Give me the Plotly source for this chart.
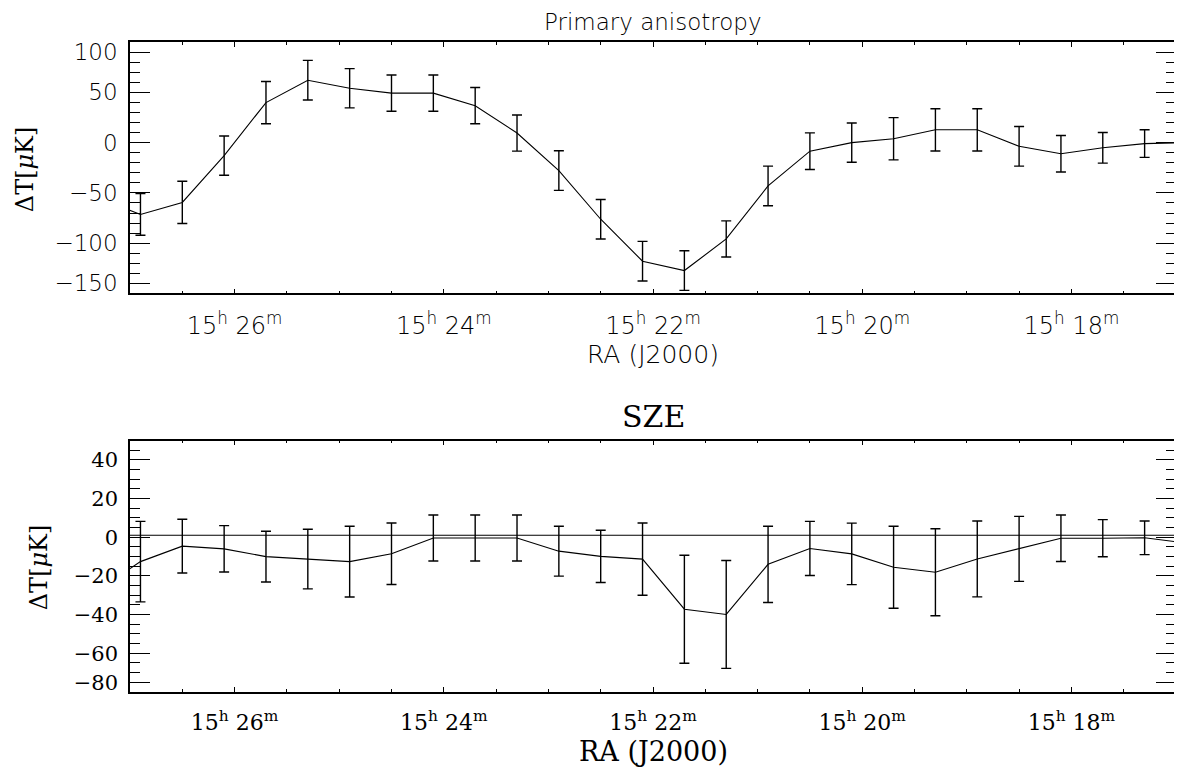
"""Primary anisotropy / SZE profiles along RA with error bars."""

import plotly.graph_objects as go

# RA of each drift bin, seconds past 15h (first and last bins fall just off the plotted window)
ra_sec = [1638, 1614, 1590, 1566, 1542, 1518, 1494, 1470, 1446, 1422, 1398, 1374, 1350, 1326,
          1302, 1278, 1254, 1230, 1206, 1182, 1158, 1134, 1110, 1086, 1062, 1038, 1014]

# primary anisotropy, uK
cmb_dt = [-55, -71.4, -59.5, -12.9, 39.8, 62.0, 54.0, 49.2, 49.2, 36.7, 9.5, -27.8, -76.2, -117.9,
          -127.2, -95.8, -43.1, -8.5, 0.0, 3.8, 12.7, 12.7, -3.7, -11.1, -5.2, -1.0, 0.0]
cmb_err = [20, 20.7, 21, 19.5, 21, 19.7, 19.5, 18, 18, 18, 18, 19.7, 19.7, 19.7,
           19.7, 18, 19.7, 18.2, 19.5, 21, 21, 21, 19.7, 18.2, 15.2, 13.7, 13]

# SZE, uK
sze_dt = [-27, -12.6, -4.6, -6.0, -10.0, -11.3, -12.6, -8.5, -0.4, -0.4, -0.4, -7.2, -9.9, -11.3,
          -37.2, -39.9, -14.0, -5.8, -8.6, -15.5, -18.1, -11.2, -6.0, -0.5, -0.5, -0.3, -3]
sze_err = [20, 20.8, 13.9, 12, 13.1, 15.4, 18.3, 15.9, 11.9, 11.9, 11.9, 12.9, 13.5, 18.7,
           27.9, 27.9, 19.7, 14, 15.9, 21.2, 22.5, 19.6, 16.8, 12, 9.6, 8.7, 9]
sze_ref = 1

# axis ticks
ra_range = [1620, 1020]
ra_ticks = [1560, 1440, 1320, 1200, 1080]
ra_labels = ["15<sup>h</sup> 26<sup>m</sup>", "15<sup>h</sup> 24<sup>m</sup>", "15<sup>h</sup> 22<sup>m</sup>",
             "15<sup>h</sup> 20<sup>m</sup>", "15<sup>h</sup> 18<sup>m</sup>"]
cmb_ticks = [-140, -100, -50, 0, 50, 90]
cmb_labels = ["\u2212150", "\u2212100", "\u221250", "0", "50", "100"]
sze_ticks = [-75, -60, -40, -20, 0, 20, 40]
sze_labels = ["\u221280", "\u221260", "\u221240", "\u221220", "0", "20", "40"]

SANS = dict(family="DejaVu Sans", size=23, color="black", weight=200)
SERIF = dict(family="DejaVu Serif", size=21, color="black")

fig = go.Figure()
fig.add_trace(go.Scatter(
    x=ra_sec, y=cmb_dt, mode="lines",
    line=dict(color="black", width=1.1),
    error_y=dict(type="data", array=cmb_err, color="black", thickness=1.4, width=5),
    xaxis="x", yaxis="y", showlegend=False,
))
fig.add_trace(go.Scatter(
    x=ra_sec, y=sze_dt, mode="lines",
    line=dict(color="black", width=1.1),
    error_y=dict(type="data", array=sze_err, color="black", thickness=1.4, width=5),
    xaxis="x2", yaxis="y2", showlegend=False,
))
# reference level across the SZE panel
fig.add_shape(type="line", xref="x2 domain", yref="y2", x0=0, x1=1, y0=sze_ref, y1=sze_ref,
              line=dict(color="black", width=1.1))

frame = dict(showline=True, linecolor="black", linewidth=1.5, mirror="ticks",
             showgrid=False, zeroline=False, ticks="inside", tickcolor="black", tickwidth=1)


def xaxis(font, anchor):
    return dict(frame, range=ra_range, tickmode="array", tickvals=ra_ticks, ticktext=ra_labels,
                ticklen=5, tickfont=font, anchor=anchor, ticklabelstandoff=10,
                minor=dict(tickmode="linear", tick0=0, dtick=30, ticks="inside", ticklen=3,
                           tickcolor="black", tickwidth=1))


def yaxis(rng, vals, text, minor_step, font, domain, anchor):
    return dict(frame, range=rng, tickmode="array", tickvals=vals, ticktext=text,
                ticklen=20, tickfont=font, domain=domain, anchor=anchor, ticklabelstandoff=6,
                minor=dict(tickmode="linear", tick0=0, dtick=minor_step, ticks="inside", ticklen=10,
                           tickcolor="black", tickwidth=1))


def label(text, x, y, font, angle=0):
    return dict(text=text, x=x, y=y, xref="paper", yref="paper", xanchor="center",
                yanchor="middle", textangle=angle, showarrow=False, font=font)


# the page body adds an 8px margin, so the figure is sized to sit flush with the window
fig.update_layout(
    width=1174, height=763,
    paper_bgcolor="white", plot_bgcolor="white",
    margin=dict(l=122, r=4, t=34, b=79),
    xaxis=xaxis(dict(SANS, size=24), "y"),
    yaxis=yaxis([-150, 100], cmb_ticks, cmb_labels, 10, SANS, [0.6131, 1], "x"),
    xaxis2=xaxis(dict(SERIF, size=22), "y2"),
    yaxis2=yaxis([-80, 50], sze_ticks, sze_labels, 5, SERIF, [0, 0.3869], "x2"),
    annotations=[
        label("Primary anisotropy", 0.5, 1.0308, dict(SANS, size=23)),
        label("RA (J2000)", 0.5, 0.5185, dict(SANS, size=25)),
        label("\u0394T[<i>\u03bc</i>K]", -0.1002, 0.8046, dict(SERIF, size=24), -90),
        label("SZE", 0.5, 0.4246, dict(SERIF, size=30)),
        label("RA (J2000)", 0.5, -0.0923, dict(SERIF, size=27)),
        label("\u0394T[<i>\u03bc</i>K]", -0.0868, 0.1923, dict(SERIF, size=24), -90),
    ],
)

fig.write_html("out.html")
